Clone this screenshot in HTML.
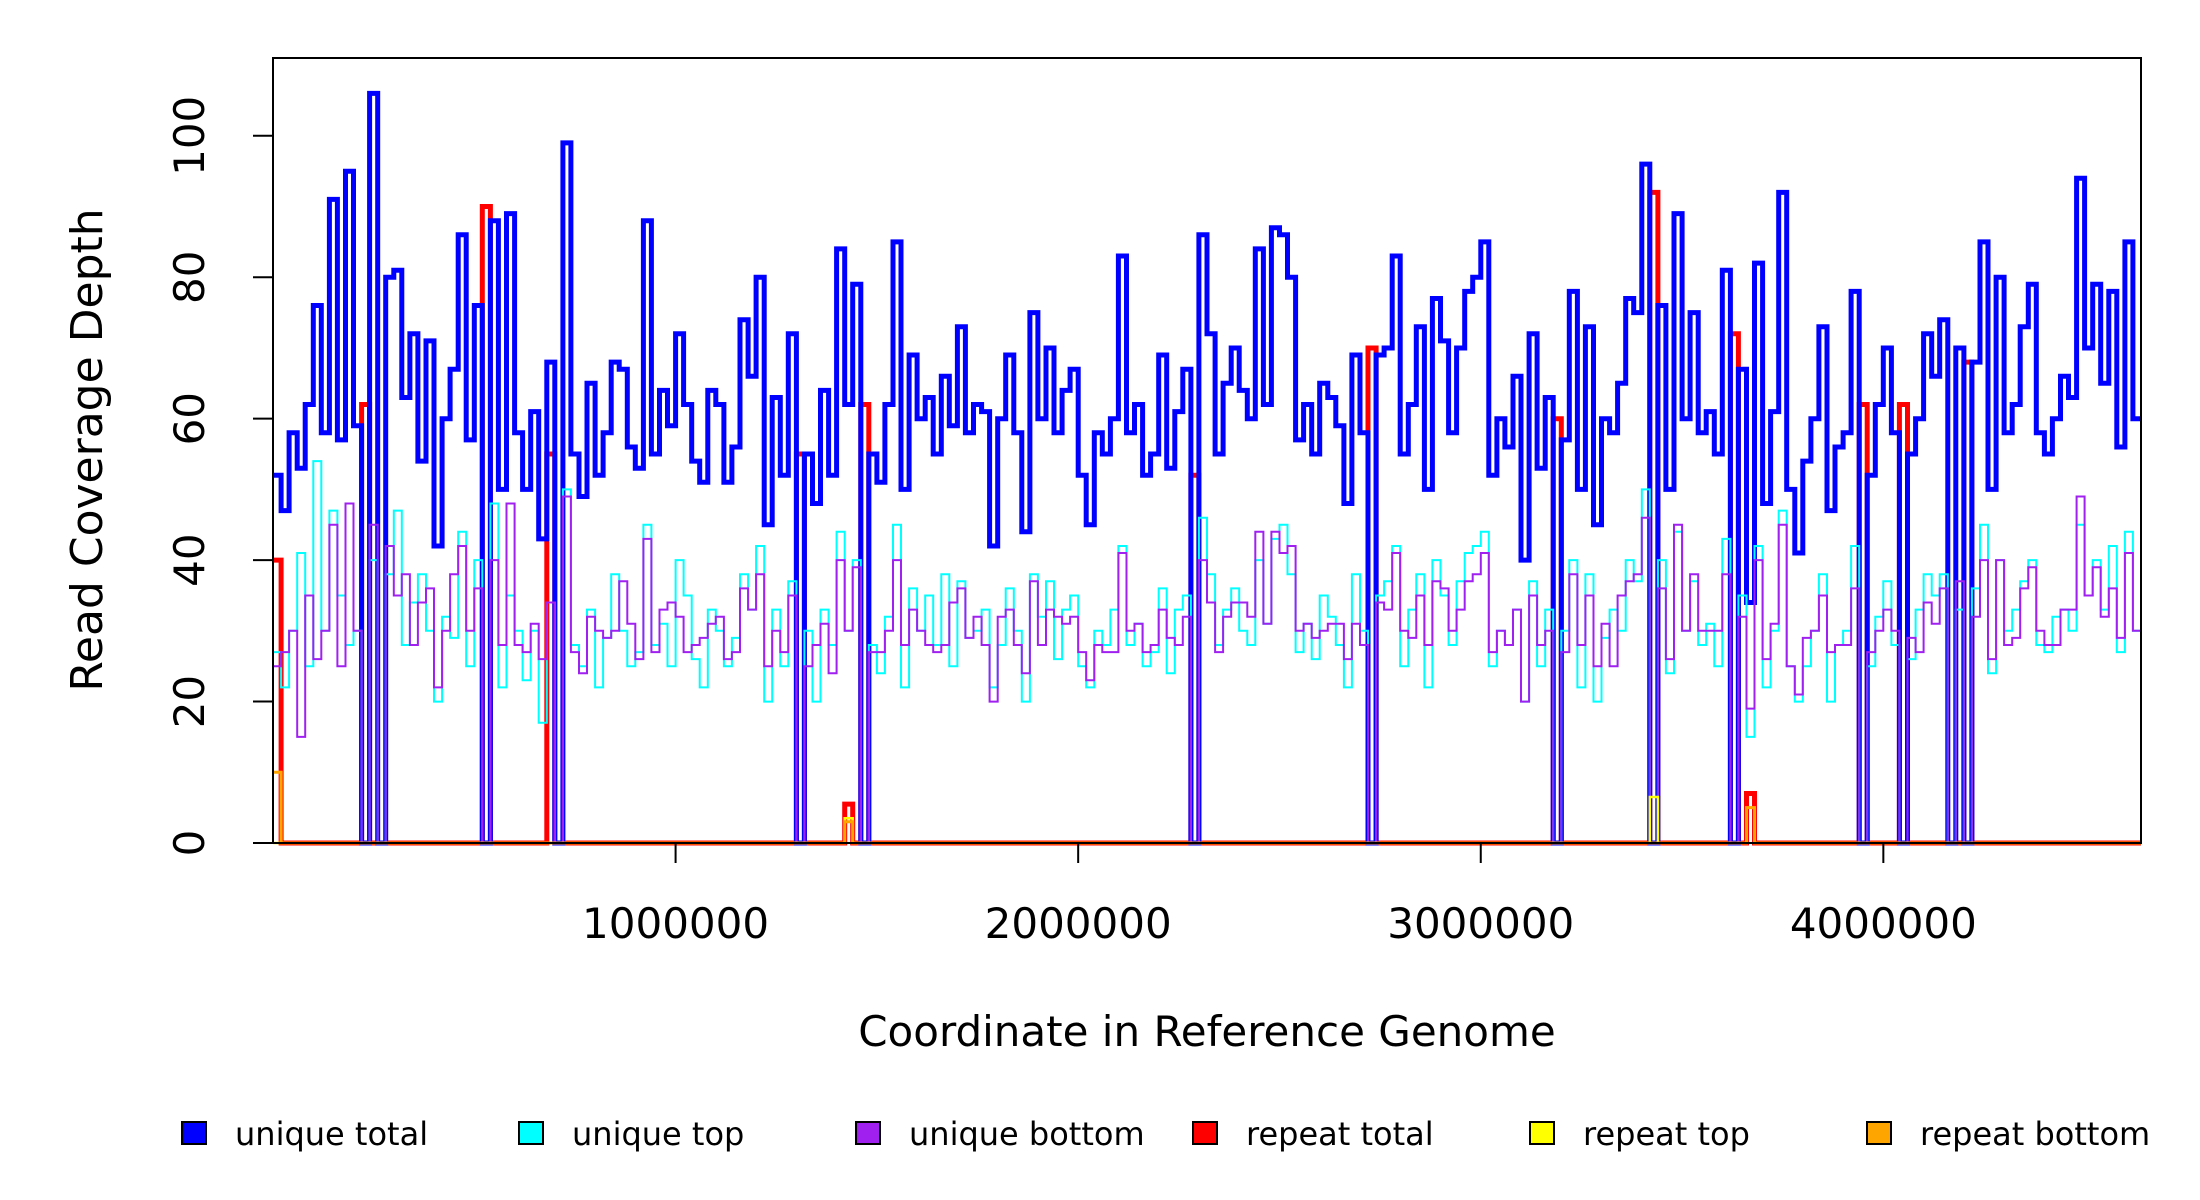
<!DOCTYPE html>
<html><head><meta charset="utf-8">
<style>
html,body{margin:0;padding:0;background:#fff;}
svg{display:block;font-family:"DejaVu Sans","Liberation Sans",sans-serif;}
</style></head>
<body>
<svg id="chart" width="2200" height="1200" viewBox="0 0 2200 1200" xmlns="http://www.w3.org/2000/svg">
<rect x="0" y="0" width="2200" height="1200" fill="#fff"/>
<g id="marks"></g>
<rect x="273" y="58" width="1868" height="785" fill="none" stroke="#000" stroke-width="2"/>
<g id="axes"></g>
<text x="1207" y="1046" font-size="42" text-anchor="middle">Coordinate in Reference Genome</text>
<text x="102" y="450" font-size="44" text-anchor="middle" transform="rotate(-90 102 450)">Read Coverage Depth</text>
<g id="legend"></g>
</svg>
<script>
const binSize = 20000;
const genomeLength = 4640000;
const uniqueTotal = [
52,47,58,53,62,76,58,91,57,95,
59,0,106,0,80,81,63,72,54,71,
42,60,67,86,57,76,0,88,50,89,
58,50,61,43,68,0,99,55,49,65,
52,58,68,67,56,53,88,55,64,59,
72,62,54,51,64,62,51,56,74,66,
80,45,63,52,72,0,55,48,64,52,
84,62,79,0,55,51,62,85,50,69,
60,63,55,66,59,73,58,62,61,42,
60,69,58,44,75,60,70,58,64,67,
52,45,58,55,60,83,58,62,52,55,
69,53,61,67,0,86,72,55,65,70,
64,60,84,62,87,86,80,57,62,55,
65,63,59,48,69,58,0,69,70,83,
55,62,73,50,77,71,58,70,78,80,
85,52,60,56,66,40,72,53,63,0,
57,78,50,73,45,60,58,65,77,75,
96,0,76,50,89,60,75,58,61,55,
81,0,67,34,82,48,61,92,50,41,
54,60,73,47,56,58,78,0,52,62,
70,58,0,55,60,72,66,74,0,70,
0,68,85,50,80,58,62,73,79,58,
55,60,66,63,94,70,79,65,78,56,
85,60];
const uniqueTop = [
27,22,30,41,25,54,30,47,35,28,
30,0,40,0,38,47,28,34,38,30,
20,32,29,44,25,40,0,48,22,35,
30,23,30,17,34,0,50,28,25,33,
22,29,38,30,25,27,45,28,31,25,
40,35,26,22,33,30,25,29,38,33,
42,20,33,25,37,0,30,20,33,28,
44,30,40,0,28,24,32,45,22,36,
30,35,28,38,25,37,29,30,33,22,
28,36,30,20,38,32,37,26,33,35,
25,22,30,28,33,42,28,31,25,27,
36,24,33,35,0,46,38,28,33,36,
30,28,40,31,43,45,38,27,31,26,
35,32,28,22,38,30,0,35,37,42,
25,33,38,22,40,35,28,37,41,42,
44,25,30,28,33,20,37,25,33,0,
30,40,22,38,20,29,33,30,40,37,
50,0,40,24,44,30,37,28,31,25,
43,0,35,15,42,22,30,47,25,20,
25,30,38,20,28,30,42,0,25,32,
37,28,0,26,33,38,35,38,0,33,
0,36,45,24,40,30,33,37,40,28,
27,32,33,30,45,35,40,33,42,27,
44,30];
const uniqueBottom = [
25,27,30,15,35,26,30,45,25,48,
30,0,45,0,42,35,38,28,34,36,
22,30,38,42,30,36,0,40,28,48,
28,27,31,26,34,0,49,27,24,32,
30,29,30,37,31,26,43,27,33,34,
32,27,28,29,31,32,26,27,36,33,
38,25,30,27,35,0,25,28,31,24,
40,30,39,0,27,27,30,40,28,33,
30,28,27,28,34,36,29,32,28,20,
32,33,28,24,37,28,33,32,31,32,
27,23,28,27,27,41,30,31,27,28,
33,29,28,32,0,40,34,27,32,34,
34,32,44,31,44,41,42,30,31,29,
30,31,31,26,31,28,0,34,33,41,
30,29,35,28,37,36,30,33,37,38,
41,27,30,28,33,20,35,28,30,0,
27,38,28,35,25,31,25,35,37,38,
46,0,36,26,45,30,38,30,30,30,
38,0,32,19,40,26,31,45,25,21,
29,30,35,27,28,28,36,0,27,30,
33,30,0,29,27,34,31,36,0,37,
0,32,40,26,40,28,29,36,39,30,
28,28,33,33,49,35,39,32,36,29,
41,30];
const repeatBins = [0,11,26,34,65,71,73,114,136,159,171,181,183,197,202,210];
const repeatTotalVals = [40,62,90,55,55,5.5,62,52,70,60,92,72,7,62,62,68];
const repeatTopVals = [0,0,0,0,0,3.5,0,0,0,0,6.5,0,5,0,0,0];
const repeatBottomVals = [10,0,0,0,0,3,0,0,0,0,0,0,5,0,0,0];
const yTicks = [0,20,40,60,80,100];
const xTicks = [1000000,2000000,3000000,4000000];
const legendLabels = ["unique total","unique top","unique bottom","repeat total","repeat top","repeat bottom"];
const legendColors = ["#0000ff","#00ffff","#a020f0","#ff0000","#ffff00","#ffa500"];

const PL=273, PR=2141, PT=58, PB=843, YMAX=111;
const xs = v => PL + v/genomeLength*(PR-PL);
const ys = v => PB - v/YMAX*(PB-PT);
const NS="http://www.w3.org/2000/svg";
const marks=document.getElementById('marks');
function expand(vals){
  const a=new Array(uniqueTotal.length).fill(0);
  repeatBins.forEach((b,i)=>{a[b]=vals[i];});
  return a;
}
function stepPath(arr){
  let d='';
  arr.forEach((v,i)=>{
    const x0=xs(i*binSize), x1=xs(Math.min((i+1)*binSize,genomeLength));
    d += (i===0?'M':'L')+x0.toFixed(1)+','+ys(v).toFixed(1)+'L'+x1.toFixed(1)+','+ys(v).toFixed(1);
  });
  return d;
}
function addSeries(arr,color,w,name){
  const p=document.createElementNS(NS,'path');
  p.setAttribute('d',stepPath(arr));
  p.setAttribute('fill','none');
  p.setAttribute('stroke',color);
  p.setAttribute('stroke-width',w);
  p.setAttribute('stroke-linejoin','miter');
  
  
  marks.appendChild(p);
}
addSeries(expand(repeatTotalVals),'#ff0000',5,'repeat-total-line');
addSeries(uniqueTotal,'#0000ff',5,'unique-total-line');
addSeries(uniqueTop,'#00ffff',2,'unique-top-line');
addSeries(uniqueBottom,'#a020f0',2,'unique-bottom-line');
addSeries(expand(repeatTopVals),'#ffff00',2.5,'repeat-top-line');
addSeries(expand(repeatBottomVals),'#ffa500',3,'repeat-bottom-line');

const axes=document.getElementById('axes');
yTicks.forEach(t=>{
  const l=document.createElementNS(NS,'line');
  l.setAttribute('x1',PL);l.setAttribute('x2',PL-20);
  l.setAttribute('y1',ys(t));l.setAttribute('y2',ys(t));
  l.setAttribute('stroke','#000');l.setAttribute('stroke-width','2');
  
  
  axes.appendChild(l);
  const tx=document.createElementNS(NS,'text');
  const y=ys(t);
  tx.setAttribute('x',204);tx.setAttribute('y',y);
  tx.setAttribute('font-size','42');tx.setAttribute('text-anchor','middle');
  tx.setAttribute('transform','rotate(-90 204 '+y+')');
  tx.textContent=t;
  
  
  axes.appendChild(tx);
});
xTicks.forEach(t=>{
  const l=document.createElementNS(NS,'line');
  l.setAttribute('x1',xs(t));l.setAttribute('x2',xs(t));
  l.setAttribute('y1',PB);l.setAttribute('y2',PB+20);
  l.setAttribute('stroke','#000');l.setAttribute('stroke-width','2');
  
  
  axes.appendChild(l);
  const tx=document.createElementNS(NS,'text');
  tx.setAttribute('x',xs(t));tx.setAttribute('y',938);
  tx.setAttribute('font-size','42');tx.setAttribute('text-anchor','middle');
  tx.textContent=t;
  
  
  axes.appendChild(tx);
});
const legend=document.getElementById('legend');
const boxX=[182,519,856,1193,1530,1867];
legendLabels.forEach((lab,i)=>{
  const r=document.createElementNS(NS,'rect');
  r.setAttribute('x',boxX[i]);r.setAttribute('y',1122);
  r.setAttribute('width',24);r.setAttribute('height',22);
  r.setAttribute('fill',legendColors[i]);r.setAttribute('stroke','#000');r.setAttribute('stroke-width','2');
  
  
  legend.appendChild(r);
  const tx=document.createElementNS(NS,'text');
  tx.setAttribute('x',boxX[i]+53);tx.setAttribute('y',1145);
  tx.setAttribute('font-size','32');
  tx.textContent=lab;
  
  
  legend.appendChild(tx);
});
</script>
</body></html>
